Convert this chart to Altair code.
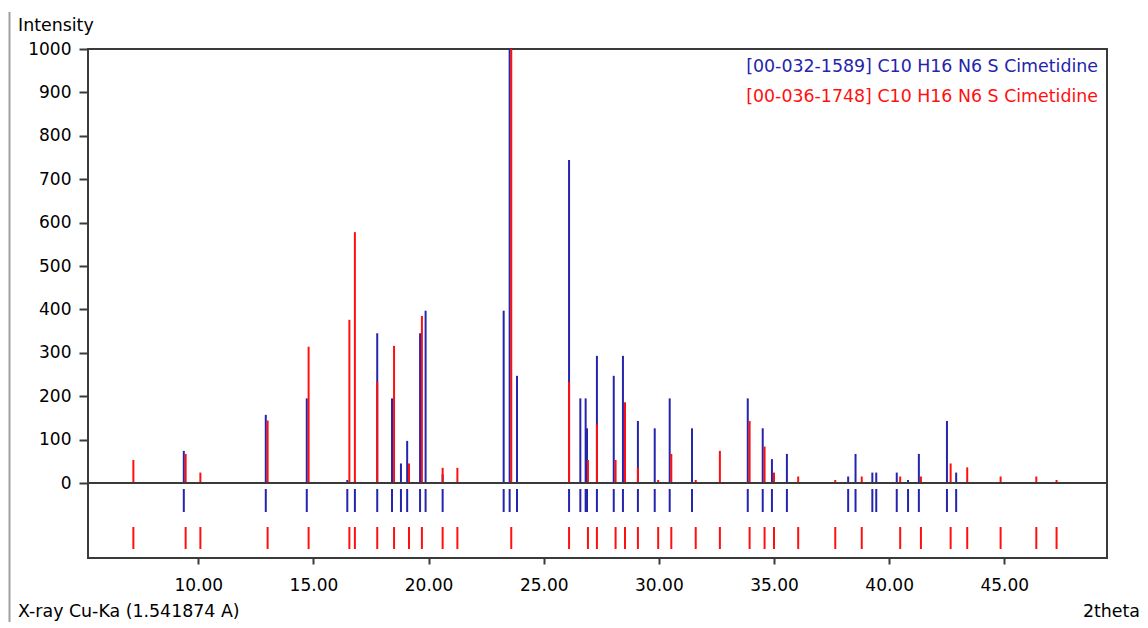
import altair as alt
import pandas as pd

# ---- data ----
blue_pos = [9.37, 12.93, 14.71, 16.47, 16.80, 17.77, 18.41, 18.80, 19.07, 19.63, 19.87,
            20.61, 23.26, 23.52, 23.84, 26.10, 26.59, 26.82, 26.88, 27.31, 28.04, 28.44,
            29.09, 29.82, 30.47, 31.44, 33.86, 34.51, 34.91, 35.56, 38.22, 38.54, 39.27,
            39.44, 40.33, 40.82, 41.29, 42.51, 42.91]
blue_int = [74, 157, 195, 7, 5, 345, 195, 45, 97, 345, 397,
            20, 397, 1000, 247, 744, 195, 195, 126, 293, 247, 293,
            143, 126, 195, 126, 195, 126, 55, 67, 15, 67, 24,
            24, 24, 7, 67, 143, 24]

red_pos = [7.18, 9.45, 10.09, 13.01, 14.79, 16.56, 16.80, 17.77, 18.50, 19.15, 19.71,
           20.61, 21.25, 23.59, 26.10, 26.92, 27.31, 28.12, 28.53, 29.09, 29.97, 30.54,
           31.60, 32.65, 33.94, 34.59, 35.00, 36.05, 37.66, 38.81, 40.48, 41.38, 42.67,
           43.39, 44.84, 46.39, 47.27]
red_int = [53, 67, 24, 144, 314, 376, 578, 233, 316, 45, 385,
           35, 35, 1000, 233, 53, 135, 53, 186, 35, 7, 67,
           7, 74, 143, 84, 24, 15, 7, 15, 15, 15, 45,
           36, 15, 15, 7]

x_ticks = [10, 15, 20, 25, 30, 35, 40, 45]
y_ticks = [0, 100, 200, 300, 400, 500, 600, 700, 800, 900, 1000]
legend_labels = ["[00-032-1589] C10 H16 N6 S Cimetidine",
                 "[00-036-1748] C10 H16 N6 S Cimetidine"]
y_title = "Intensity"
x_left_title = "X-ray Cu-Ka (1.541874 A)"
x_right_title = "2theta"

BLUE = "#2424AC"
RED = "#FF1010"
FRAME = "#3a3a3a"
FONT = "DejaVu Sans"
FS = 17
TFS = 17.4

df_blue = pd.DataFrame({"pos": blue_pos, "inten": blue_int})
df_red = pd.DataFrame({"pos": red_pos, "inten": red_int})

x_scale = alt.Scale(domain=[5.21, 49.46], nice=False, zero=False)
y_scale = alt.Scale(domain=[-172.8, 1000], nice=False, zero=False)

x_axis = alt.Axis(values=x_ticks, format=".2f", tickSize=6, labelPadding=13, title=None)
y_axis = alt.Axis(values=y_ticks, format="d", tickSize=9, labelPadding=8, title=None)

blue_peaks = alt.Chart(df_blue).mark_rule(color=BLUE, strokeWidth=2).encode(
    x=alt.X("pos:Q", scale=x_scale, axis=x_axis),
    y=alt.Y("inten:Q", scale=y_scale, axis=y_axis),
    y2=alt.datum(0),
)
red_peaks = alt.Chart(df_red).mark_rule(color=RED, strokeWidth=2).encode(
    x=alt.X("pos:Q", scale=x_scale),
    y=alt.Y("inten:Q", scale=y_scale),
    y2=alt.datum(0),
)
baseline = alt.Chart(pd.DataFrame({"z": [0]})).mark_rule(color=FRAME, strokeWidth=2).encode(
    y=alt.Y("z:Q", scale=y_scale)
)
blue_marks = alt.Chart(df_blue).mark_rule(color=BLUE, strokeWidth=2).encode(
    x=alt.X("pos:Q", scale=x_scale),
    y=alt.datum(-13.8),
    y2=alt.datum(-66.8),
)
red_marks = alt.Chart(df_red).mark_rule(color=RED, strokeWidth=2).encode(
    x=alt.X("pos:Q", scale=x_scale),
    y=alt.datum(-101.4),
    y2=alt.datum(-152),
)

def label(text, x, y, align, color="#000000", baseline_="alphabetic"):
    return alt.Chart(pd.DataFrame({"t": [text]})).mark_text(
        align=align, baseline=baseline_, font=FONT, fontSize=TFS, color=color
    ).encode(text="t:N", x=alt.value(x), y=alt.value(y))

leg_blue = label(legend_labels[0], 1010, 17.7, "right", BLUE, "middle")
leg_red = label(legend_labels[1], 1010, 48, "right", RED, "middle")
t_y = label(y_title, -70, -18, "left")
t_xl = label(x_left_title, -70, 567.5, "left")
t_xr = label(x_right_title, 1052, 567.5, "right")

border = alt.Chart(pd.DataFrame({"z": [0]})).mark_rule(color="#a0a0a0", strokeWidth=2).encode(
    x=alt.value(-78.5), y=alt.value(-37), y2=alt.value(580)
)

chart = alt.layer(
    border, blue_peaks, red_peaks, baseline, blue_marks, red_marks,
    leg_blue, leg_red, t_y, t_xl, t_xr
).properties(
    width=1019, height=509,
    autosize=alt.AutoSizeParams(type="none"),
    padding={"left": 80, "top": 41, "right": 33, "bottom": 64},
).configure_view(
    stroke=FRAME, strokeWidth=2
).configure_axis(
    labelFont=FONT, labelFontSize=FS, labelColor="#000000",
    tickColor=FRAME, tickWidth=2, domain=False, grid=False
)

chart.save("out.html", embed_options={"renderer": "svg", "actions": False})
